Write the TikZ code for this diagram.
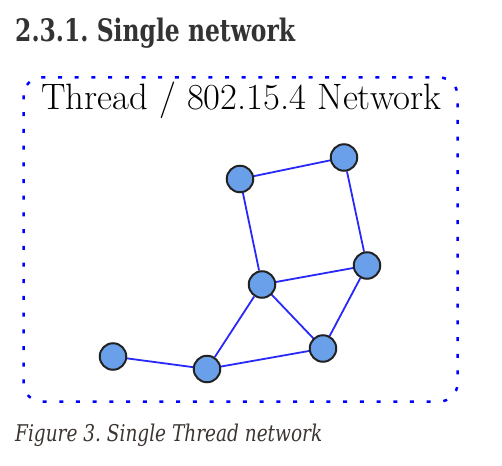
\documentclass[tikz,border=0pt]{standalone}
\usepackage{fontspec}
\newfontfamily\titlefont{DejaVu Serif}
\usetikzlibrary{backgrounds}
\definecolor{nodefill}{RGB}{106,160,234}
\definecolor{nodeline}{RGB}{34,34,34}
\definecolor{edgeblue}{RGB}{40,40,250}
\definecolor{txtgray}{RGB}{51,51,51}
\definecolor{capgray}{RGB}{60,52,48}
\tikzset{
  dev/.style={circle,draw=nodeline,fill=nodefill,line width=2pt,minimum size=26.5pt,inner sep=0pt},
  link/.style={draw=edgeblue,line width=1.8pt},
  netbox/.style={draw=blue,line width=2.5pt,dash pattern=on 4pt off 12.7pt,rounded corners=18pt},
}
\frenchspacing
\begin{document}
\begin{tikzpicture}[x=1pt,y=-1pt]
\useasboundingbox (0,0) rectangle (502,465);
\node[anchor=base west,inner sep=0pt,text=txtgray] (title) at (15,41.5)
  {\resizebox{280pt}{23.5pt}{\titlefont\bfseries\fontsize{28.5}{30}\selectfont 2.3.1.\ Single network}};
\draw[netbox] (23.5,77.5) rectangle (457.5,401.5);
\node[anchor=base west,inner sep=0pt] (label) at (41,109.5)
  {\resizebox{400pt}{!}{\fontsize{36}{40}\selectfont Thread / 802.15.4 Network}};
\node[dev] (a) at (240,179) {};
\node[dev] (b) at (344,157.5) {};
\node[dev] (c) at (262,284.5) {};
\node[dev] (d) at (367,265.5) {};
\node[dev] (e) at (323,348.5) {};
\node[dev] (f) at (113,356.5) {};
\node[dev] (g) at (207,369) {};
\begin{pgfonlayer}{background}
\draw[link] (a) -- (b);
\draw[link] (a) -- (c);
\draw[link] (b) -- (d);
\draw[link] (c) -- (d);
\draw[link] (c) -- (g);
\draw[link] (c) -- (e);
\draw[link] (d) -- (e);
\draw[link] (e) -- (g);
\draw[link] (f) -- (g);
\end{pgfonlayer}
\node[anchor=base west,inner sep=0pt,text=capgray] (caption) at (15,441.5)
  {\resizebox{307pt}{17.5pt}{\titlefont\itshape\fontsize{22}{26}\selectfont Figure 3. Single Thread network}};
\end{tikzpicture}
\end{document}
